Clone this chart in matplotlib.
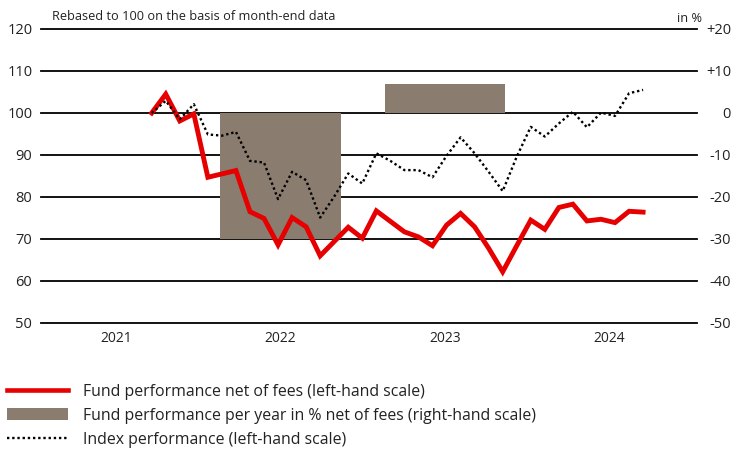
import matplotlib
matplotlib.use("Agg")
import matplotlib.pyplot as plt
import numpy as np
from matplotlib.lines import Line2D
from matplotlib.patches import Patch

# ---------------- data ----------------
fund = [100.0, 104.5, 98.1, 99.8, 84.7, 85.5, 86.3, 76.5, 74.9, 68.6,
        75.1, 72.9, 66.0, 69.4, 72.8, 70.2, 76.7, 74.2, 71.7, 70.5,
        68.4, 73.3, 76.1, 72.9, 67.8, 62.2, 68.4, 74.5, 72.3, 77.5,
        78.3, 74.3, 74.7, 73.9, 76.6, 76.4]
index_perf = [100.0, 102.9, 98.5, 102.1, 94.9, 94.6, 95.5, 88.6, 88.2, 79.5,
              86.0, 84.0, 75.1, 80.1, 85.6, 83.2, 90.4, 88.6, 86.4, 86.4,
              84.7, 89.8, 94.2, 90.4, 86.0, 81.4, 89.6, 96.7, 94.4, 97.5,
              100.3, 96.6, 100.1, 99.3, 104.7, 105.5]
years = ["2021", "2022", "2023", "2024"]
bar_years = ["2022", "2023"]
bar_values = [-30.0, 7.0]
left_ticks = [50, 60, 70, 80, 90, 100, 110, 120]
right_ticks = [-50, -40, -30, -20, -10, 0, 10, 20]
right_tick_labels = ["-50", "-40", "-30", "-20", "-10", "0", "+10", "+20"]

title_text = "Rebased to 100 on the basis of month-end data"
unit_text = "in %"
legend_labels = ["Fund performance net of fees (left-hand scale)",
                 "Fund performance per year in % net of fees (right-hand scale)",
                 "Index performance (left-hand scale)"]

# ---------------- style ----------------
RED = "#e60000"
BROWN = "#8a7d70"
plt.rcParams["font.family"] = ["Open Sans", "DejaVu Sans"]
TXT = "#222222"

W, H = 732, 454
fig = plt.figure(figsize=(W / 100, H / 100), dpi=100)

left_px, right_px, top_px, bot_px = 40.7, 697, 29, 323
pos = [left_px / W, 1 - bot_px / H, (right_px - left_px) / W, (bot_px - top_px) / H]

# bar axes (right scale, year categories)
axb = fig.add_axes(pos, zorder=1)
axb.set_ylim(-50, 20)
axb.set_xlim(-0.458, 3.532)
for v in right_ticks:
    axb.axhline(v, color="black", lw=1.3, zorder=0, clip_on=False)
bx = [years.index(y) for y in bar_years]
axb.bar(bx, bar_values, width=0.73, color=BROWN, zorder=2, linewidth=0)
axb.yaxis.tick_right()
axb.set_yticks(right_ticks)
axb.set_yticklabels(right_tick_labels)
for lab in axb.get_yticklabels():
    lab.set_horizontalalignment("right")
axb.tick_params(axis="y", length=0, pad=24.5, labelsize=10.5, labelcolor=TXT)
axb.set_xticks(range(len(years)))
axb.set_xticklabels(years)
axb.tick_params(axis="x", length=0, pad=6, labelsize=10, labelcolor=TXT)
for s in axb.spines.values():
    s.set_visible(False)

# line axes (left scale, months)
ax = fig.add_axes(pos, zorder=2)
ax.patch.set_visible(False)
months = np.arange(len(fund))
ax.set_xlim(-7.906, 38.84)
ax.set_ylim(50, 120)
ax.plot(months, fund, color=RED, lw=3.5, solid_joinstyle="miter", zorder=3)
ax.plot(months, index_perf, color="black", lw=1.7, ls=(0, (1, 1.2)), zorder=4)
ax.set_yticks(left_ticks)
ax.tick_params(axis="y", length=0, pad=6, labelsize=10.5, labelcolor=TXT)
ax.set_xticks([])
for s in ax.spines.values():
    s.set_visible(False)

fig.text(52 / W, 1 - 17 / H, title_text, ha="left", va="center", fontsize=9.2, color=TXT)
fig.text(702 / W, 1 - 18 / H, unit_text, ha="right", va="center", fontsize=9.2, color=TXT)

handles = [Line2D([], [], color=RED, lw=3.3),
           Patch(facecolor=BROWN, edgecolor="none"),
           Line2D([], [], color="black", lw=1.7, ls=(0, (1, 1.2)))]
fig.legend(handles, legend_labels, loc="upper left", bbox_to_anchor=(7 / W, 1 - 384 / H),
           frameon=False, fontsize=11.4, handlelength=3.86, handleheight=0.78,
           handletextpad=0.95, labelspacing=0.5, borderaxespad=0, borderpad=0,
           labelcolor=TXT)

fig.savefig("out.png", dpi=100)
